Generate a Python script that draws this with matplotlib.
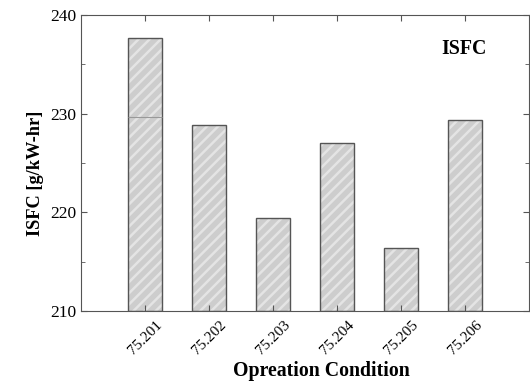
import numpy as np
import matplotlib
matplotlib.use('Agg')
import matplotlib.pyplot as plt
from matplotlib.ticker import MultipleLocator

plt.rcParams['font.family'] = ['Liberation Serif', 'DejaVu Serif']
plt.rcParams['hatch.linewidth'] = 1.8

# data
conditions = ['75.201', '75.202', '75.203', '75.204', '75.205', '75.206']
isfc = [237.7, 228.9, 219.4, 227.0, 216.4, 229.4]
split_line = 229.7  # faint line visible inside the first bar

fig = plt.figure(figsize=(5.30, 3.81), dpi=100)
ax = fig.add_axes([81 / 530, 1 - 311 / 381, 448 / 530, 296 / 381])

x = np.arange(1, len(conditions) + 1)
w = 0.52
heights = np.array(isfc) - 210
# fill with light diagonal streaks, then outline
ax.bar(x, heights, bottom=210, width=w, color='#cdcdcd',
       edgecolor='#e4e4e4', linewidth=0, hatch='///')
ax.bar(x, heights, bottom=210, width=w, fill=False,
       edgecolor='#555555', linewidth=1.0)
ax.hlines(split_line, x[0] - w / 2, x[0] + w / 2, color='#999999', linewidth=0.8)

ax.set_xlim(0, 7)
ax.set_ylim(210, 240)
ax.set_xticks(x)
ax.set_xticklabels(conditions, rotation=45, fontsize=11)
ax.yaxis.set_major_locator(MultipleLocator(10))
ax.yaxis.set_minor_locator(MultipleLocator(5))
ax.tick_params(axis='both', direction='in', top=True, right=True, labelsize=12.5,
               color='#555555', length=4)
ax.tick_params(axis='x', labelsize=11, pad=5)
ax.tick_params(axis='y', which='minor', direction='in', right=True, length=3, color='#555555')
plt.setp(ax.get_xticklabels(), ha='center', va='top', rotation_mode='default')
for s in ax.spines.values():
    s.set_color('#555555')

ax.set_xlabel('Opreation Condition', fontsize=14.3, fontweight='bold')
ax.xaxis.set_label_coords(0.536, -0.168)
ax.set_ylabel('ISFC [g/kW-hr]', fontsize=13.2, fontweight='bold')
ax.yaxis.set_label_coords(-0.082, 0.465)
ax.text(0.855, 0.885, 'ISFC', transform=ax.transAxes, fontsize=14.3, fontweight='bold',
        ha='center', va='center')

fig.savefig('out.png', dpi=100)
